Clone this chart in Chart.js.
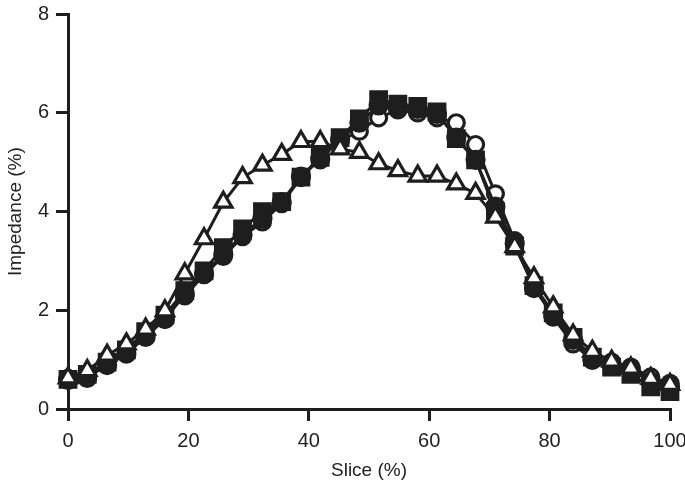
<!DOCTYPE html>
<html>
<head>
<meta charset="utf-8">
<script src="https://cdn.jsdelivr.net/npm/chart.js@4"></script>
<style>
  body { margin: 0; background: #fff; }
</style>
</head>
<body>
<canvas id="grafico" width="685" height="486"></canvas>
<script>
// slice positions (%)
const fatias = [0, 3.2, 6.5, 9.7, 12.9, 16.1, 19.4, 22.6, 25.8, 29.0, 32.3, 35.5, 38.7, 41.9, 45.2, 48.4,
  51.6, 54.8, 58.1, 61.3, 64.5, 67.7, 71.0, 74.2, 77.4, 80.6, 83.9, 87.1, 90.3, 93.5, 96.8, 100];

const circuloCheio = [0.59, 0.65, 0.89, 1.12, 1.46, 1.82, 2.32, 2.74, 3.13, 3.53, 3.86, 4.19, 4.71, 5.06, 5.46, 5.8,
  6.15, 6.12, 6.08, 5.98, 5.5, 5.05, 4.1, 3.35, 2.45, 1.9, 1.4, 1.0, 0.9, 0.8, 0.55, 0.45];

const circuloAberto = [0.62, 0.62, 0.92, 1.16, 1.49, 1.89, 2.29, 2.72, 3.09, 3.49, 3.79, 4.16, 4.69, 5.1, 5.43, 5.63,
  5.9, 6.06, 6.0, 5.9, 5.8, 5.36, 4.36, 3.41, 2.49, 1.86, 1.32, 0.99, 0.95, 0.85, 0.65, 0.52];

const quadrado = [0.6, 0.7, 0.95, 1.2, 1.57, 1.9, 2.4, 2.8, 3.27, 3.65, 4.0, 4.2, 4.7, 5.1, 5.5, 5.88,
  6.27, 6.18, 6.13, 6.02, 5.48, 5.05, 4.0, 3.3, 2.5, 1.95, 1.45, 1.05, 0.85, 0.7, 0.45, 0.35];

const triangulo = [0.63, 0.78, 1.09, 1.32, 1.62, 1.99, 2.74, 3.45, 4.19, 4.69, 4.94, 5.16, 5.42, 5.42, 5.27, 5.2,
  4.97, 4.83, 4.72, 4.72, 4.56, 4.37, 3.89, 3.29, 2.66, 2.07, 1.5, 1.17, 0.97, 0.83, 0.62, 0.5];

const ticksX = [0, 20, 40, 60, 80, 100];
const ticksY = [0, 2, 4, 6, 8];

const cor = '#1e1e1e';
const fonte = 'Liberation Sans, Arial, Helvetica, sans-serif';

function pontos(valores) {
  return fatias.map((x, i) => ({ x: x, y: valores[i] }));
}

function serie(valores, estilo, fundo, raio, ordem) {
  return {
    data: pontos(valores),
    borderColor: cor,
    borderWidth: 3,
    pointStyle: estilo,
    pointRadius: raio,
    pointBackgroundColor: fundo,
    pointBorderColor: cor,
    pointBorderWidth: 3.2,
    tension: 0,
    clip: false,
    order: ordem
  };
}

const ctx = document.getElementById('grafico').getContext('2d');
new Chart(ctx, {
  type: 'line',
  data: {
    datasets: [
      serie(triangulo, 'triangle', '#fff', 10, 0),
      serie(circuloCheio, 'circle', cor, 8.5, 1),
      serie(circuloAberto, 'circle', '#fff', 8, 2),
      serie(quadrado, 'rect', cor, 11, 3)
    ]
  },
  options: {
    responsive: false,
    animation: false,
    layout: { padding: { left: 0, top: 10, right: 15, bottom: 0 } },
    plugins: {
      legend: { display: false },
      tooltip: { enabled: false }
    },
    scales: {
      x: {
        type: 'linear',
        min: 0,
        max: 100,
        afterFit: (s) => { s.height = 77; s.paddingLeft = 0; s.paddingRight = 0; },
        afterBuildTicks: (s) => { s.ticks = ticksX.map(v => ({ value: v })); },
        border: { display: true, color: cor, width: 3 },
        grid: { drawOnChartArea: false, drawTicks: true, tickLength: 12, lineWidth: 3, color: cor },
        ticks: { color: '#222', padding: 8, font: { family: fonte, size: 20 } },
        title: { display: true, text: 'Slice (%)', color: '#222', padding: { top: 4 }, font: { family: fonte, size: 19 } }
      },
      y: {
        min: 0,
        max: 8,
        afterFit: (s) => { s.width = 68; s.paddingTop = 0; s.paddingBottom = 0; },
        afterBuildTicks: (s) => { s.ticks = ticksY.map(v => ({ value: v })); },
        border: { display: true, color: cor, width: 3 },
        grid: { drawOnChartArea: false, drawTicks: true, tickLength: 12, lineWidth: 3, color: cor },
        ticks: { color: '#222', padding: 7, font: { family: fonte, size: 20 } },
        title: { display: true, text: 'Impedance (%)', color: '#222', padding: { bottom: 2 }, font: { family: fonte, size: 19 } }
      }
    }
  }
});
</script>
</body>
</html>
